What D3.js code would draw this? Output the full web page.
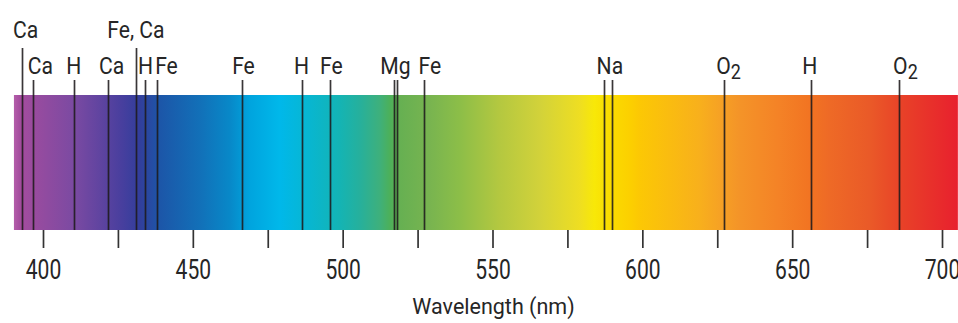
<!DOCTYPE html>
<html>
<head>
<meta charset="utf-8">
<script src="https://cdn.jsdelivr.net/npm/d3@7"></script>
<style>
  html, body { margin: 0; padding: 0; background: #fff; }
  svg { display: block; }
</style>
</head>
<body>
<svg id="chart" width="958" height="323"></svg>
<script>
// Absorption lines in the solar spectrum, wavelength in nm
const lineWavelengths = [392.9, 396.8, 410.3, 421.6, 431.0, 434.2, 438.2, 466.4, 486.3, 495.7,
                         517.0, 518.2, 527.1, 587.1, 589.8, 627.1, 656.4, 685.8];
// Lines whose label sits on the upper row
const tallLineWavelengths = [392.9, 431.0];

// Element labels
const labelTexts      = ["Ca", "Ca", "H", "Ca", "Fe, Ca", "H", "Fe", "Fe", "H", "Fe", "Mg", "Fe", "Na", "O", "H", "O"];
const labelSubscripts = ["",   "",   "",  "",   "",       "",  "",   "",   "",  "",   "",   "",   "",   "2", "",  "2"];
const labelWavelengths = [392.9, 396.8, 410.3, 421.6, 431.0, 434.2, 438.2, 466.4, 486.3, 495.7,
                          517.6, 527.1, 588.5, 627.1, 656.4, 685.8];
const labelRows = [0, 1, 1, 1, 0, 1, 1, 1, 1, 1, 1, 1, 1, 1, 1, 1];

// Axis ticks
const tickValues = [400, 425, 450, 475, 500, 525, 550, 575, 600, 625, 650, 675, 700];
const tickLabels = ["400", "", "450", "", "500", "", "550", "", "600", "", "650", "", "700"];

// Colour of the visible spectrum along the band
const stopWavelengths = [390.3, 392.3, 410.7, 419, 425.7, 432.3, 439, 452.3, 462.3, 469, 479, 489,
                         499, 505.7, 512.3, 515.7, 519, 529, 539, 552.3, 565.7, 579, 584, 589,
                         595.7, 599, 619, 625.7, 632.3, 645.7, 655.7, 662.3, 675.7, 687.3, 705.3];
const stopColors = ["#b45eaa", "#a44c9e", "#7a4aa2", "#6044a0", "#4a3f9e", "#323e9c", "#1c56a8", "#1270b8",
                    "#0888c8", "#00a4de", "#00b8ea", "#08b6d0", "#14b4b4", "#26b09c", "#3eb07c", "#4cb05a",
                    "#66b052", "#78b450", "#8cbe48", "#b4c840", "#d2d23a", "#eede22", "#f8e808", "#fadc00",
                    "#fcd000", "#fcc804", "#f8b01c", "#f6a224", "#f49428", "#f48226", "#f27422", "#ee6a26",
                    "#ea5a28", "#e84028", "#e8202e"];

// ---- layout ----
const BAND_TOP = 95, BAND_BOTTOM = 230;
const LINE_TOP_SHORT = 80, LINE_TOP_TALL = 48;
const ROW_BASELINE = [38, 74];
const LABEL_NUDGE = [4, 7, 0, 4, 0, 0, 9, 1.5, 0, 1.5, 0, 6, 2, 5, -1.5, 6];
const LABEL_FONT = 23, LABEL_SX = 0.92;
const TICK_FONT = 27, TICK_SX = 0.78;
const FONT = "Roboto, 'Liberation Sans', sans-serif";
const TEXT_COLOR = "#262626";

const svg = d3.select("#chart");

const x = d3.scaleLinear().domain([400, 700]).range([43, 942]);

// Spectrum band with horizontal gradient
const x0 = x(stopWavelengths[0]), x1 = x(stopWavelengths[stopWavelengths.length - 1]);
const grad = svg.append("defs").append("linearGradient")
  .attr("id", "spectrum")
  .attr("gradientUnits", "userSpaceOnUse")
  .attr("x1", x0).attr("x2", x1)
  .attr("y1", 0).attr("y2", 0);
grad.selectAll("stop")
  .data(stopWavelengths)
  .join("stop")
  .attr("offset", d => (x(d) - x0) / (x1 - x0))
  .attr("stop-color", (d, i) => stopColors[i]);

svg.append("rect")
  .attr("x", x0)
  .attr("y", BAND_TOP)
  .attr("width", x1 - x0)
  .attr("height", BAND_BOTTOM - BAND_TOP)
  .attr("fill", "url(#spectrum)");

// Absorption lines
svg.append("g")
  .selectAll("line")
  .data(lineWavelengths)
  .join("line")
  .attr("x1", d => Math.round(x(d)) + 0.5)
  .attr("x2", d => Math.round(x(d)) + 0.5)
  .attr("y1", d => tallLineWavelengths.includes(d) ? LINE_TOP_TALL : LINE_TOP_SHORT)
  .attr("y2", BAND_BOTTOM)
  .attr("stroke", "#1e1a1c")
  .attr("stroke-opacity", 0.88)
  .attr("stroke-width", 1.7);

// Element labels
const labels = svg.append("g")
  .attr("font-family", FONT)
  .attr("font-size", LABEL_FONT)
  .attr("fill", TEXT_COLOR)
  .attr("text-anchor", "middle")
  .selectAll("text")
  .data(labelTexts)
  .join("text")
  .attr("transform", (d, i) =>
    `translate(${x(labelWavelengths[i]) + LABEL_NUDGE[i]},${ROW_BASELINE[labelRows[i]]}) scale(${LABEL_SX},1)`);
labels.append("tspan").text(d => d);
labels.filter((d, i) => labelSubscripts[i] !== "")
  .append("tspan")
  .attr("dy", 5)
  .attr("font-size", LABEL_FONT * 0.85)
  .text(function () {
    const i = labels.nodes().indexOf(this.parentNode);
    return labelSubscripts[i];
  });

// Wavelength axis
const axis = d3.axisBottom(x)
  .tickValues(tickValues)
  .tickSize(18)
  .tickFormat((d, i) => tickLabels[i]);
const gAxis = svg.append("g")
  .attr("transform", `translate(0,${BAND_BOTTOM})`)
  .call(axis);
gAxis.select(".domain").remove();
gAxis.selectAll(".tick line")
  .attr("stroke", "#333")
  .attr("stroke-width", 1.7);
gAxis.selectAll(".tick text")
  .attr("y", 0)
  .attr("dy", 0)
  .attr("transform", `translate(0,49) scale(${TICK_SX},1)`)
  .attr("font-family", FONT)
  .attr("font-size", TICK_FONT)
  .attr("fill", TEXT_COLOR);

// Axis title
svg.append("text")
  .attr("x", x(550) + 1)
  .attr("y", 314)
  .attr("text-anchor", "middle")
  .attr("font-family", FONT)
  .attr("font-size", 21.5)
  .attr("fill", TEXT_COLOR)
  .text("Wavelength (nm)");
</script>
</body>
</html>
